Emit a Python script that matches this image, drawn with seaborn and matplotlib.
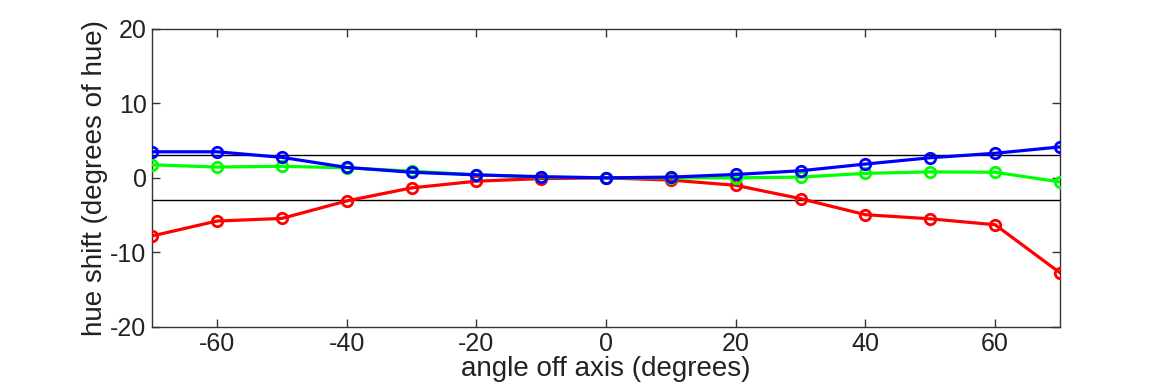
import matplotlib
matplotlib.use("Agg")
import matplotlib.pyplot as plt
import numpy as np
import pandas as pd
import seaborn as sns

# angles and hue shift values
angles = [-70, -60, -50, -40, -30, -20, -10, 0, 10, 20, 30, 40, 50, 60, 70]
red = [-7.8, -5.8, -5.45, -3.1, -1.35, -0.45, -0.1, 0.0, -0.3, -1.0, -2.8, -4.95, -5.5, -6.3, -12.75]
green = [1.75, 1.45, 1.55, 1.35, 0.9, 0.4, 0.1, 0.0, 0.0, 0.0, 0.1, 0.6, 0.8, 0.75, -0.55]
blue = [3.5, 3.5, 2.75, 1.4, 0.75, 0.4, 0.15, 0.0, 0.1, 0.45, 0.95, 1.85, 2.7, 3.3, 4.15]
limits = [3, -3]

df = pd.DataFrame({"angle": angles, "red": red, "green": green, "blue": blue})

sns.set_theme(style="white")
plt.rcParams["font.family"] = ["Liberation Sans", "DejaVu Sans"]
plt.rcParams["axes.unicode_minus"] = False

fig = plt.figure(figsize=(11.7, 3.9), dpi=100)
ax = fig.add_axes([0.130, 0.162, 0.776, 0.764])

for lim in limits:
    ax.axhline(lim, color="black", lw=1.0, zorder=1)

colors = {"red": "#ff0000", "green": "#00ff00", "blue": "#0000ff"}
for name in ["red", "green", "blue"]:
    sns.lineplot(
        data=df, x="angle", y=name, ax=ax, color=colors[name],
        lw=2.3, marker="o", markersize=7.5, markerfacecolor="none",
        markeredgecolor=colors[name], markeredgewidth=2.0, zorder=3,
    )

ax.set_xlim(-70, 70)
ax.set_ylim(-20, 20)
ax.set_xticks([-60, -40, -20, 0, 20, 40, 60])
ax.set_yticks([-20, -10, 0, 10, 20])
ax.tick_params(direction="in", length=6, width=1, color="#333333",
               labelsize=18, top=True, right=True, left=True, bottom=True,
               labelcolor="#222222", pad=4)
for s in ax.spines.values():
    s.set_color("#333333")
    s.set_linewidth(1.0)

ax.set_xlabel("angle off axis (degrees)", fontsize=20, labelpad=0, color="#222222")
ax.set_ylabel("hue shift (degrees of hue)", fontsize=20, labelpad=2, color="#222222")

fig.savefig("out.png", dpi=100)
